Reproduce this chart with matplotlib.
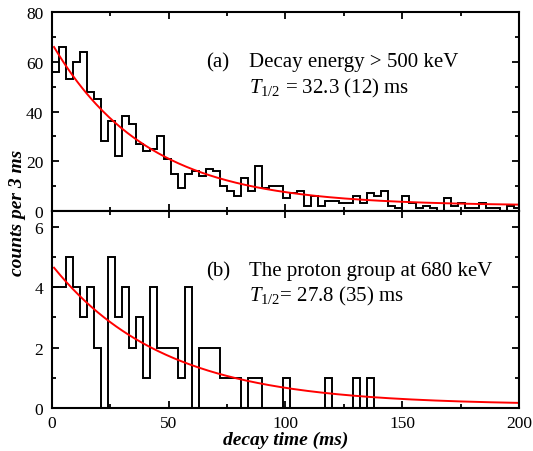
import numpy as np
import matplotlib
matplotlib.use('Agg')
import matplotlib.pyplot as plt
from matplotlib.ticker import MultipleLocator

plt.rcParams['font.family'] = ['Liberation Serif', 'DejaVu Serif']
plt.rcParams['mathtext.fontset'] = 'custom'
plt.rcParams['mathtext.rm'] = 'Liberation Serif'
plt.rcParams['mathtext.it'] = 'Liberation Serif:italic'

bin_width = 3  # ms

# (a) decay energy > 500 keV, counts per 3 ms bin starting at 0 ms
counts_a = [56, 66, 53, 60, 64, 48, 45, 28, 36, 22, 38, 35, 27, 24, 25,
            30, 21, 15, 9, 15, 16, 14, 17, 16, 10, 8, 6, 13, 8, 18,
            9, 10, 10, 5, 7, 8, 2, 6, 2, 4, 4, 3, 3, 6, 3,
            7, 6, 8, 2, 1, 6, 3, 1, 2, 1, 0, 5, 2, 3, 1,
            1, 3, 1, 1, 0, 2, 1]

# (b) proton group at 680 keV
counts_b = [4, 4, 5, 4, 3, 4, 2, 0, 5, 3, 4, 2, 3, 1, 4,
            2, 2, 2, 1, 4, 0, 2, 2, 2, 1, 1, 1, 0, 1, 1,
            0, 0, 0, 1, 0, 0, 0, 0, 0, 1, 0, 0, 0, 1, 0,
            1, 0, 0, 0, 0, 0, 0, 0, 0, 0, 0, 0, 0, 0, 0,
            0, 0, 0, 0, 0, 0, 0]

# fitted curves: amp * exp(-lam * t) + bkg
fit_a = dict(amp=65.6, lam=0.0248, bkg=2.0)
fit_b = dict(amp=4.64, lam=0.021, bkg=0.1)

label_a = ['(a)', 'Decay energy > 500 keV', r'$\mathit{T}_{1/2}$ = 32.3 (12) ms']
label_b = ['(b)', 'The proton group at 680 keV', r'$\mathit{T}_{1/2}$= 27.8 (35) ms']

fig = plt.figure(figsize=(5.33, 4.52), dpi=100)
ax1 = fig.add_axes([0.097, 0.5316, 0.877, 0.439])
ax2 = fig.add_axes([0.097, 0.0951, 0.877, 0.4365])

t = np.linspace(1, 200, 300)

for ax, counts, fit, lab, ylim, maj, mnr, ytxt in [
        (ax1, counts_a, fit_a, label_a, 80, 20, 10, (60.2, 49.8)),
        (ax2, counts_b, fit_b, label_b, 6.53, 2, 1, (4.55, 3.73))]:
    edges = np.arange(len(counts) + 1) * bin_width
    ax.stairs(counts, edges, color='black', linewidth=1.4, baseline=None)
    ax.plot(t, fit['amp'] * np.exp(-fit['lam'] * t) + fit['bkg'],
            color='red', linewidth=1.4)
    ax.set_xlim(0, 200)
    ax.set_ylim(0, ylim)
    ax.xaxis.set_major_locator(MultipleLocator(50))
    ax.xaxis.set_minor_locator(MultipleLocator(25))
    ax.yaxis.set_major_locator(MultipleLocator(maj))
    ax.yaxis.set_minor_locator(MultipleLocator(mnr))
    ax.tick_params(which='both', direction='in', top=True, right=True,
                   labelsize=12.5, width=1.3)
    ax.tick_params(which='major', length=5)
    ax.tick_params(which='minor', length=3)
    ax.tick_params(axis='y', pad=6)
    ax.tick_params(axis='x', pad=5)
    for s in ax.spines.values():
        s.set_linewidth(1.5)
    ax.text(66.1, ytxt[0], lab[0], fontsize=15, va='center')
    ax.text(84.6, ytxt[0], lab[1], fontsize=15, va='center')
    ax.text(84.6, ytxt[1], lab[2], fontsize=15, va='center')

ax1.tick_params(labelbottom=False)
ax2.set_xlabel('decay time (ms)', fontsize=14, fontweight='bold',
               fontstyle='italic', labelpad=0)
fig.text(0.032, 0.53, 'counts per 3 ms', rotation=90, fontsize=14,
         fontweight='bold', fontstyle='italic', ha='center', va='center')

plt.savefig('out.png', dpi=100)
